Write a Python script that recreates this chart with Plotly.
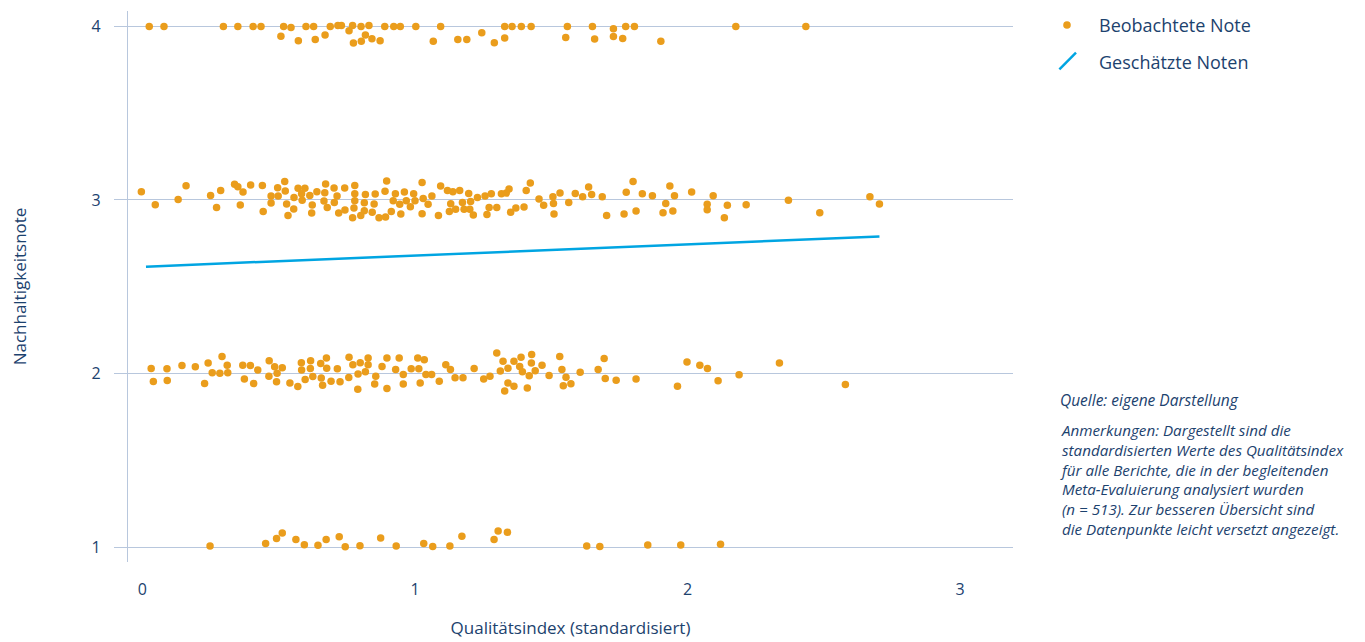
import plotly.graph_objects as go

color_points = 'rgb(234, 157, 28)'
color_line = 'rgb(0, 165, 226)'
color_grid = 'rgb(184, 199, 221)'
color_text = 'rgb(28, 66, 110)'
font_family = '"Open Sans", Lato, sans-serif'

qi_note4 = [0.025, 0.079, 0.297, 0.350, 0.406, 0.435, 0.518, 0.508, 0.545, 0.572,
            0.600, 0.628, 0.634, 0.670, 0.689, 0.717, 0.730, 0.758, 0.771, 0.774,
            0.802, 0.803, 0.818, 0.831, 0.842, 0.872, 0.889, 0.922, 0.946, 1.003,
            1.067, 1.094, 1.157, 1.190, 1.245, 1.291, 1.329, 1.329, 1.356, 1.390,
            1.426, 1.553, 1.559, 1.651, 1.659, 1.728, 1.728, 1.762, 1.773, 1.805,
            1.902, 2.177, 2.434]
note4 = [4.0, 4.0, 4.0, 4.0, 4.0, 4.0, 4.0, 3.944, 3.994, 3.918,
         4.0, 4.0, 3.925, 3.950, 4.0, 4.005, 4.005, 3.975, 4.005, 3.904,
         4.0, 3.914, 3.950, 4.005, 3.929, 3.918, 4.0, 4.0, 4.0, 4.0,
         3.914, 4.0, 3.925, 3.925, 3.964, 3.906, 4.0, 3.933, 4.0, 4.0,
         4.0, 3.937, 4.0, 4.0, 3.927, 3.987, 3.942, 3.931, 4.0, 4.0,
         3.915, 4.0, 4.0]

qi_note3 = [-0.004, 0.047, 0.131, 0.160, 0.250, 0.287, 0.272, 0.338, 0.350, 0.369,
            0.359, 0.397, 0.440, 0.443, 0.472, 0.472, 0.496, 0.498, 0.522, 0.524,
            0.529, 0.534, 0.556, 0.555, 0.571, 0.584, 0.596, 0.586, 0.614, 0.623,
            0.621, 0.640, 0.669, 0.666, 0.672, 0.678, 0.703, 0.714, 0.704, 0.720,
            0.742, 0.743, 0.779, 0.779, 0.779, 0.776, 0.771, 0.818, 0.814, 0.814,
            0.801, 0.854, 0.850, 0.843, 0.868, 0.892, 0.896, 0.890, 0.928, 0.920,
            0.913, 0.961, 0.968, 0.944, 0.948, 0.995, 1.000, 0.983, 1.026, 1.030,
            1.048, 1.026, 1.062, 1.086, 1.094, 1.119, 1.139, 1.164, 1.131, 1.126,
            1.149, 1.197, 1.174, 1.204, 1.180, 1.201, 1.214, 1.229, 1.257, 1.280,
            1.272, 1.264, 1.300, 1.317, 1.335, 1.345, 1.351, 1.370, 1.400, 1.408,
            1.423, 1.455, 1.472, 1.506, 1.508, 1.510, 1.532, 1.564, 1.588, 1.615,
            1.637, 1.648, 1.687, 1.703, 1.767, 1.775, 1.800, 1.811, 1.834, 1.871,
            1.910, 1.920, 1.935, 1.946, 1.952, 2.015, 2.072, 2.072, 2.094, 2.135,
            2.146, 2.215, 2.370, 2.485, 2.669, 2.704]
note3 = [3.048, 2.973, 3.003, 3.082, 3.026, 3.054, 2.956, 3.090, 3.077, 3.046,
         2.971, 3.086, 3.084, 2.934, 3.023, 2.983, 3.071, 3.023, 3.107, 3.052,
         2.977, 2.911, 3.015, 2.948, 3.067, 3.036, 3.067, 2.998, 3.026, 2.971,
         2.925, 3.048, 3.042, 2.994, 3.092, 2.956, 3.069, 3.023, 2.986, 2.925,
         3.069, 2.942, 3.084, 3.036, 2.996, 2.954, 2.898, 3.032, 2.984, 2.938,
         2.910, 3.035, 2.977, 2.929, 2.898, 2.902, 3.109, 3.050, 3.036, 2.996,
         2.934, 3.046, 2.996, 2.975, 2.919, 3.036, 2.996, 2.961, 3.101, 3.009,
         2.975, 2.921, 3.023, 2.910, 3.081, 3.054, 3.048, 3.054, 2.979, 2.934,
         2.946, 3.038, 2.986, 2.992, 2.946, 2.946, 2.914, 3.015, 3.023, 3.036,
         2.957, 2.917, 2.957, 3.036, 3.040, 3.063, 2.929, 2.954, 2.960, 3.054,
         3.098, 3.006, 2.969, 3.019, 2.980, 2.919, 3.040, 2.986, 3.038, 3.019,
         3.075, 3.031, 3.019, 2.911, 2.919, 3.044, 3.107, 2.937, 3.036, 3.025,
         2.927, 2.980, 3.081, 2.937, 3.025, 3.046, 2.975, 2.944, 3.025, 2.898,
         2.969, 2.973, 2.998, 2.927, 3.019, 2.977]

qi_note2 = [0.032, 0.040, 0.090, 0.091, 0.145, 0.194, 0.228, 0.241, 0.256, 0.292,
            0.284, 0.311, 0.313, 0.368, 0.396, 0.374, 0.408, 0.423, 0.465, 0.485,
            0.464, 0.494, 0.492, 0.513, 0.541, 0.570, 0.583, 0.584, 0.597, 0.617,
            0.616, 0.625, 0.654, 0.675, 0.676, 0.656, 0.661, 0.692, 0.715, 0.725,
            0.758, 0.772, 0.757, 0.799, 0.791, 0.790, 0.828, 0.828, 0.818, 0.856,
            0.852, 0.879, 0.897, 0.897, 0.929, 0.942, 0.957, 0.957, 0.986, 1.010,
            1.014, 1.034, 1.040, 1.061, 1.019, 1.089, 1.113, 1.130, 1.147, 1.176,
            1.217, 1.252, 1.275, 1.300, 1.323, 1.313, 1.341, 1.363, 1.341, 1.329,
            1.363, 1.389, 1.384, 1.394, 1.419, 1.412, 1.428, 1.427, 1.441, 1.466,
            1.492, 1.531, 1.539, 1.554, 1.544, 1.572, 1.606, 1.672, 1.694, 1.698,
            1.738, 1.811, 1.963, 1.998, 2.045, 2.073, 2.112, 2.189, 2.337, 2.579]
note2 = [2.029, 1.954, 2.027, 1.960, 2.046, 2.039, 1.942, 2.060, 2.004, 2.098,
         2.002, 2.048, 2.004, 2.048, 2.046, 1.968, 1.942, 2.021, 2.073, 2.039,
         1.985, 2.002, 1.952, 2.033, 1.946, 1.925, 2.062, 2.020, 1.965, 2.073,
         2.029, 1.983, 2.058, 2.089, 2.031, 1.974, 1.933, 1.956, 2.027, 1.952,
         2.094, 2.050, 1.977, 2.062, 1.998, 1.910, 2.090, 2.050, 2.010, 1.985,
         1.939, 2.040, 2.089, 1.914, 2.023, 2.090, 1.994, 1.939, 2.027, 2.090,
         2.027, 2.079, 1.994, 1.994, 1.946, 1.956, 2.050, 2.023, 1.975, 1.975,
         2.029, 1.968, 1.985, 2.118, 2.071, 2.014, 2.031, 2.071, 1.946, 1.899,
         1.927, 2.094, 2.040, 2.010, 1.987, 1.916, 2.109, 2.060, 2.016, 2.048,
         1.988, 2.098, 2.023, 1.979, 1.929, 1.941, 2.008, 2.023, 2.086, 1.971,
         1.962, 1.969, 1.927, 2.067, 2.048, 2.029, 1.958, 1.993, 2.060, 1.937]

qi_note1 = [0.248, 0.452, 0.492, 0.513, 0.563, 0.594, 0.644, 0.674, 0.722, 0.744,
            0.798, 0.874, 0.931, 1.032, 1.065, 1.128, 1.172, 1.290, 1.305, 1.339,
            1.630, 1.678, 1.854, 1.975, 2.121]
note1 = [1.006, 1.020, 1.050, 1.081, 1.043, 1.014, 1.010, 1.044, 1.060, 1.002,
         1.008, 1.052, 1.006, 1.021, 1.004, 1.006, 1.063, 1.043, 1.092, 1.085,
         1.006, 1.004, 1.012, 1.012, 1.017]

# estimated grades (regression line)
qi_fit = [0.013, 2.704]
note_fit = [2.616, 2.790]

x_ticks = [0, 1, 2, 3]
y_ticks = [1, 2, 3, 4]

name_obs = 'Beobachtete Note'
name_fit = 'Geschätzte Noten'

source_line = 'Quelle: eigene Darstellung'
note_lines = [
    'Anmerkungen: Dargestellt sind die',
    'standardisierten Werte des Qualitätsindex',
    'für alle Berichte, die in der begleitenden',
    'Meta-Evaluierung analysiert wurden',
    '(n = 513). Zur besseren Übersicht sind',
    'die Datenpunkte leicht versetzt angezeigt.',
]

# the page body keeps its default 8px margin, so the figure is 8px smaller
fig_w, fig_h = 1357, 634
plot_left, plot_w = 120, 885
plot_bottom, plot_h = 554, 551


# ----------------------------------------------
def paper_x(px):
    return (px - plot_left) / plot_w


def paper_y(py):
    return (plot_bottom - py) / plot_h


# ----------------------------------------------
def add_legend(fig):
    """
    Hand-made legend: dot and a short slanted stroke as in the original
    """
    fig.add_shape(
        type='circle', xref='paper', yref='paper',
        xsizemode='pixel', ysizemode='pixel',
        xanchor=paper_x(1059), yanchor=paper_y(17),
        x0=-3.8, x1=3.8, y0=-3.8, y1=3.8,
        fillcolor=color_points, line_width=0)
    fig.add_shape(
        type='line', xref='paper', yref='paper',
        xsizemode='pixel', ysizemode='pixel',
        xanchor=paper_x(1059.7), yanchor=paper_y(53),
        x0=-8.3, x1=8.3, y0=-8.3, y1=8.3,
        line=dict(color=color_line, width=2.5))
    for name, py in [(name_obs, 17), (name_fit, 54)]:
        fig.add_annotation(
            text=name, xref='paper', yref='paper',
            x=paper_x(1089), y=paper_y(py),
            xanchor='left', yanchor='middle', showarrow=False,
            font=dict(size=18, color=color_text, family=font_family))


# ----------------------------------------------
def build_figure():
    obs_x = qi_note4 + qi_note3 + qi_note2 + qi_note1
    obs_y = note4 + note3 + note2 + note1
    assert len(obs_x) == len(obs_y)

    fig = go.Figure()

    fig.add_trace(go.Scatter(
        x=obs_x,
        y=obs_y,
        mode='markers',
        marker=dict(color=color_points, size=7.5, line_width=0),
        name=name_obs))

    fig.add_trace(go.Scatter(
        x=qi_fit,
        y=note_fit,
        mode='lines',
        line=dict(color=color_line, width=2.5),
        name=name_fit))

    add_legend(fig)

    # side notes
    fig.add_annotation(
        text='<i>' + source_line + '</i>',
        xref='paper', yref='paper', x=paper_x(1050), y=paper_y(392),
        xanchor='left', yanchor='middle', showarrow=False,
        font=dict(size=15.5, color=color_text, family=font_family))
    fig.add_annotation(
        text='<i>' + '<br>'.join(note_lines) + '</i>',
        xref='paper', yref='paper', x=paper_x(1050), y=paper_y(410),
        xanchor='left', yanchor='top', align='left', showarrow=False,
        font=dict(size=15.2, color=color_text, family=font_family))

    fig.update_layout(
        width=fig_w,
        height=fig_h,
        plot_bgcolor='white',
        paper_bgcolor='white',
        margin=dict(l=plot_left, r=fig_w - plot_left - plot_w, t=3,
                    b=fig_h - plot_bottom, autoexpand=False),
        font=dict(family=font_family, color=color_text),
        showlegend=False,
        xaxis=dict(
            range=[-0.053, 3.194],
            tickvals=x_ticks,
            showgrid=False, zeroline=False, showline=False,
            ticks='', ticklabelstandoff=16,
            tickfont=dict(size=16, color=color_text),
            title=dict(text='Qualitätsindex (standardisiert)',
                       font=dict(size=17, color=color_text), standoff=23)),
        yaxis=dict(
            range=[0.914, 4.089],
            tickvals=y_ticks,
            showgrid=True, gridcolor=color_grid, gridwidth=1.2,
            zeroline=False,
            showline=True, linecolor=color_grid, linewidth=1.2,
            ticks='outside', ticklen=13, tickcolor=color_grid, tickwidth=1.2,
            ticklabelstandoff=10,
            tickfont=dict(size=16, color=color_text),
            title=dict(text='Nachhaltigkeitsnote',
                       font=dict(size=17, color=color_text), standoff=62)),
    )
    return fig


fig = build_figure()
fig.write_html("out.html")
